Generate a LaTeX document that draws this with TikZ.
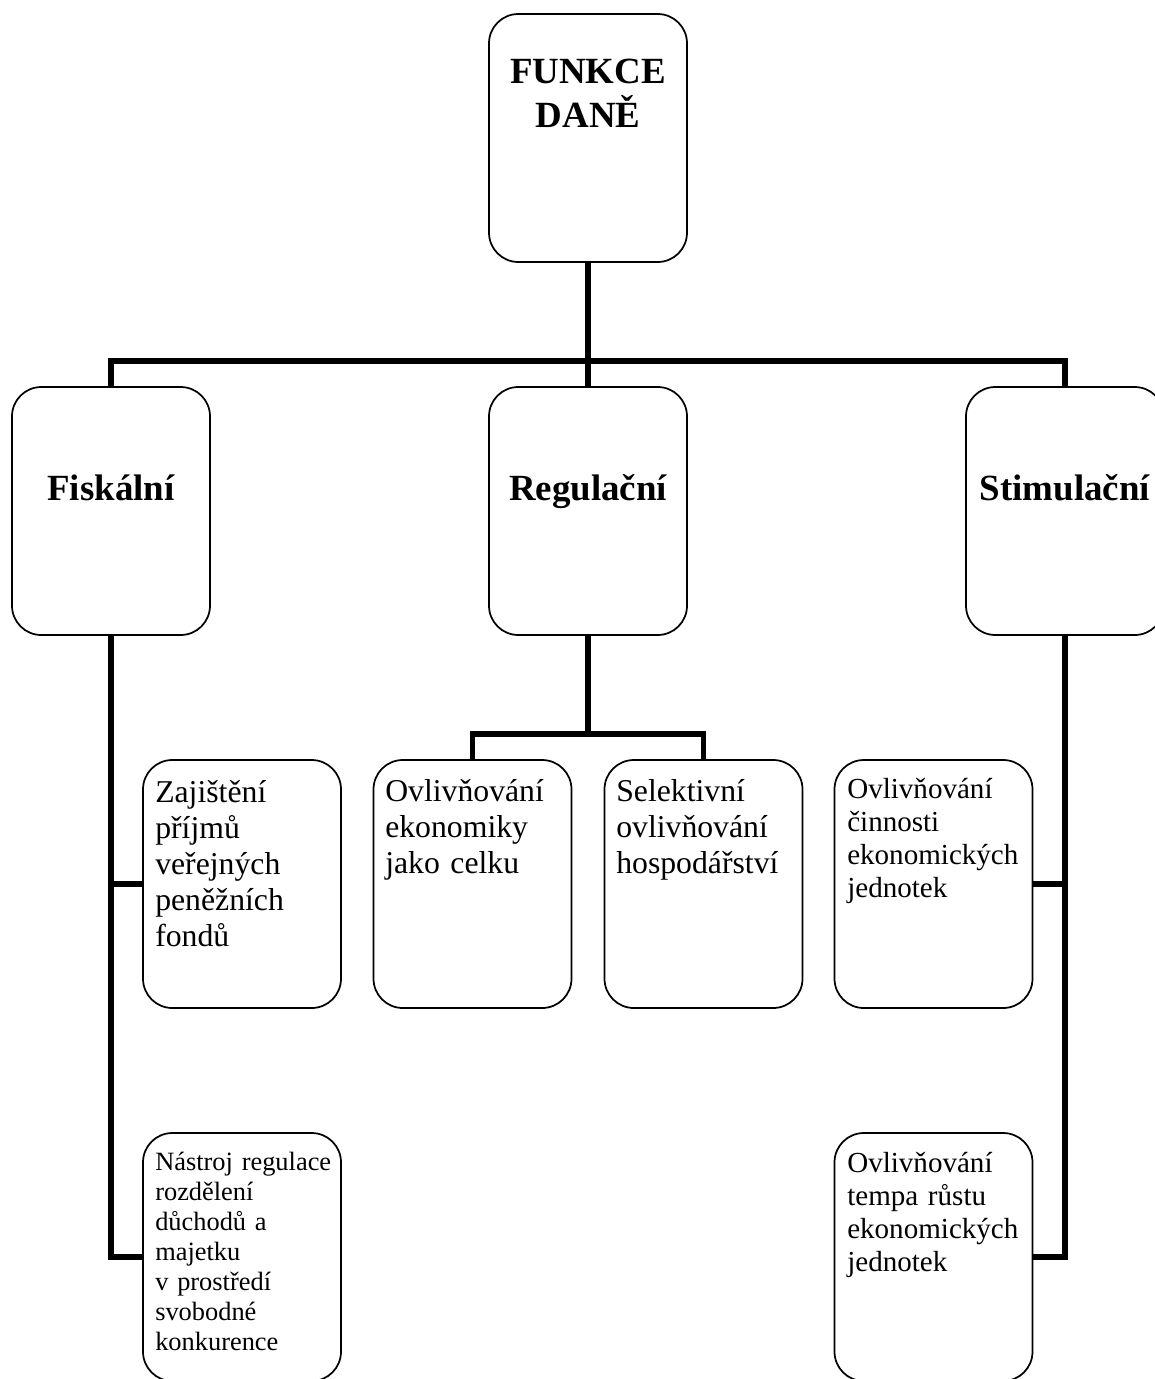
\documentclass[tikz,border=0pt]{standalone}
\usepackage{fontspec}
\setmainfont{Liberation Serif}
\begin{document}
\begin{tikzpicture}[x=0.75pt,y=-0.75pt,
  box/.style={draw, line width=1.3pt, rounded corners=22pt, minimum width=148.5pt, minimum height=186pt, inner sep=0pt},
  conn/.style={line width=4.2pt, line join=miter},
  headtxt/.style={inner sep=0pt, anchor=base, text width=148.5pt, align=center, font=\fontsize{27.7}{33.5}\selectfont\bfseries},
  txtA/.style={inner sep=0pt, anchor=base west, text width=140pt, align=left, font=\fontsize{23.8}{27}\selectfont},
  txtB/.style={inner sep=0pt, anchor=base west, text width=140pt, align=left, font=\fontsize{21.8}{24.8}\selectfont},
  txtC/.style={inner sep=0pt, anchor=base west, text width=140pt, align=left, font=\fontsize{19.8}{22.5}\selectfont}]
\useasboundingbox (0,0) rectangle (1155,1379);
\fill[white] (0,0) rectangle (1155,1379);
\begin{scope}
\clip (0,0) rectangle (1155,1379);
% boxes
\node[box] (t) at (588,138) {};
\node[box] (f) at (111,511) {};
\node[box] (r) at (588,511) {};
\node[box] (s) at (1065,511) {};
\node[box] (z) at (242,884) {};
\node[box] (o1) at (472.5,884) {};
\node[box] (o2) at (703.5,884) {};
\node[box] (oc) at (933.5,884) {};
\node[box] (n) at (242,1257) {};
\node[box] (ot) at (933.5,1257) {};
% texts
\node[headtxt] (tt) at (588,83) {FUNKCE\\DANĚ};
\node[headtxt] (ft) at (111,500) {Fiskální};
\node[headtxt] (rt) at (588,500) {Regulační};
\node[headtxt] (st) at (1065,500) {Stimulační};
\node[txtA] (zt) at (155,802) {Zajištění\\příjmů\\veřejných\\peněžních\\fondů};
\node[txtA] (o1t) at (385,801) {Ovlivňování\\ekonomiky\\jako celku};
\node[txtA] (o2t) at (616,801) {Selektivní\\ovlivňování\\hospodářství};
\node[txtB] (oct) at (847,798) {Ovlivňování\\činnosti\\ekonomických\\jednotek};
\node[txtC] (nt) at (155,1170) {Nástroj regulace\\rozdělení\\důchodů a\\majetku\\v prostředí\\svobodné\\konkurence};
\node[txtB] (ott) at (847,1172) {Ovlivňování\\tempa růstu\\ekonomických\\jednotek};
% connectors
\coordinate (hb) at (588,361);
\coordinate (rb) at (588,734);
\draw[conn] (t.south) -- (hb);
\draw[conn] (f.north) |- (hb) -| (s.north);
\draw[conn] (hb) -- (r.north);
\draw[conn] (f.south) |- (n.west);
\draw[conn] (f.south |- z.west) -- (z.west);
\draw[conn] (r.south) -- (rb);
\draw[conn] (o1.north) |- (rb) -| (o2.north);
\draw[conn] (s.south) |- (ot.east);
\draw[conn] (s.south |- oc.east) -- (oc.east);
\end{scope}
\end{tikzpicture}
\end{document}
